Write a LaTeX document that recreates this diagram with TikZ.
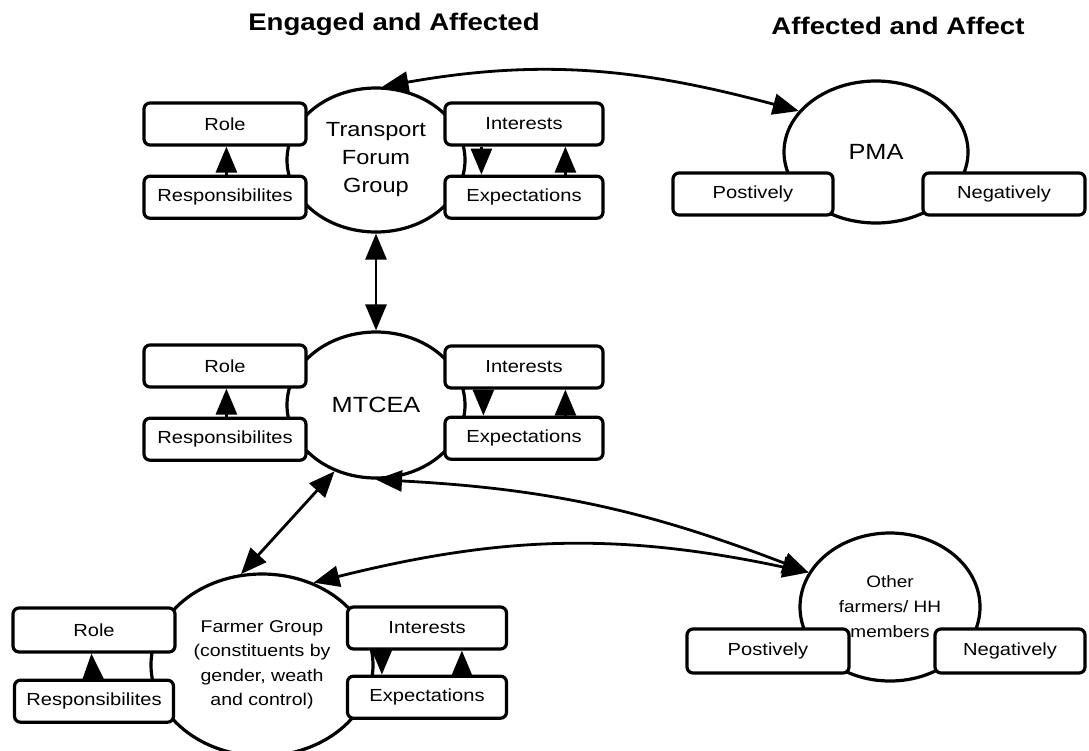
\documentclass[tikz,border=0pt]{standalone}
\usepackage{fontspec}
\setmainfont{Liberation Sans}[FakeStretch=1.15]
\usepackage{tikz}
\usetikzlibrary{arrows.meta,shapes.geometric,positioning}
\newcommand{\boxfont}{\fontsize{17.5}{21}\selectfont}
\newcommand{\hdrfont}{\fontsize{24}{28}\selectfont\bfseries}
\tikzset{
        box/.style = {draw, rectangle, rounded corners=6pt, fill=white,
            line width=3.2pt, inner sep=0pt,
            minimum height=42pt,
            minimum width=162pt, font=\boxfont},
        actor/.style = {draw, ellipse, line width=3.2pt, inner sep=0pt, align=center},
        arrow/.style = {draw, line width=2.8pt, -{Triangle[length=26pt,width=21pt]}},
        twoway/.style = {draw, line width=2.8pt,
            {Triangle[length=26pt,width=21pt]}-{Triangle[length=26pt,width=21pt]}},
        heading/.style = {font=\hdrfont},
    }

\begin{document}
\begin{tikzpicture}[x=1pt,y=1pt]
\useasboundingbox (0,0) rectangle (1089,-750);

\node[heading] (h1) at (394,-24) {Engaged and Affected};
\node[heading] (h2) at (898,-26) {Affected and Affect};

% stakeholders
\node[actor, minimum width=178pt, minimum height=144pt,
      font=\fontsize{20.5}{28}\selectfont] (tfg) at (376,-160) {Transport\\Forum\\Group};
\node[actor, minimum width=184pt, minimum height=142pt,
      font=\fontsize{22}{26}\selectfont] (pma) at (876,-152) {PMA};
\node[actor, minimum width=178pt, minimum height=146pt,
      font=\fontsize{22}{26}\selectfont] (mtcea) at (376,-405) {MTCEA};
\node[actor, minimum width=222pt, minimum height=182pt,
      font=\fontsize{17}{24.5}\selectfont] (farmer) at (262,-665)
      {Farmer Group\\(constituents by\\gender, weath\\and control)};
\node[actor, minimum width=180pt, minimum height=148pt,
      font=\fontsize{16.5}{25}\selectfont] (other) at (890,-607) {Other\\farmers/ HH\\members};

% Transport Forum Group
\node[box] (role1) at (225,-124) {Role};
\node[box, below=28pt of role1] (resp1) {Responsibilites};
\node[box, minimum width=158pt] (int1) at (524,-124) {Interests};
\node[box, minimum width=158pt, below=28pt of int1] (exp1) {Expectations};
\draw[arrow] ([xshift=84pt]resp1.north west) -- ([xshift=84pt]role1.south west);
\draw[arrow] ([xshift=38pt]int1.south west) -- ([xshift=38pt]exp1.north west);
\draw[arrow] ([xshift=122pt]exp1.north west) -- ([xshift=122pt]int1.south west);

% PMA
\node[box, minimum width=160pt] (pos1) at (753,-194) {Postively};
\node[box] (neg1) at (1004,-194) {Negatively};

% MTCEA
\node[box] (role2) at (225,-366) {Role};
\node[box, below=28pt of role2] (resp2) {Responsibilites};
\node[box, minimum width=158pt] (int2) at (524,-367) {Interests};
\node[box, minimum width=158pt, below=26pt of int2] (exp2) {Expectations};
\draw[arrow] ([xshift=84pt]resp2.north west) -- ([xshift=84pt]role2.south west);
\draw[arrow] ([xshift=40pt]int2.south west) -- ([xshift=40pt]exp2.north west);
\draw[arrow] ([xshift=122pt]exp2.north west) -- ([xshift=122pt]int2.south west);

% Farmer Group
\node[box, minimum height=44pt] (role3) at (94,-630) {Role};
\node[box, minimum width=159pt, below=25pt of role3] (resp3) {Responsibilites};
\node[box, minimum width=159pt] (int3) at (427,-628) {Interests};
\node[box, minimum width=159pt, below=24pt of int3] (exp3) {Expectations};
\draw[arrow] ([xshift=80pt]resp3.north west) -- ([xshift=80pt]role3.south west);
\draw[arrow] ([xshift=36pt]int3.south west) -- ([xshift=36pt]exp3.north west);
\draw[arrow] ([xshift=116pt]exp3.north west) -- ([xshift=116pt]int3.south west);

% Other farmers
\node[box, minimum height=44pt] (pos2) at (768,-651) {Postively};
\node[box, minimum height=44pt, minimum width=150pt] (neg2) at (1010,-651) {Negatively};

% links between stakeholders
\draw[twoway] (tfg.85) to[out=10, in=165] (pma.152);
\draw[twoway] (tfg.south) -- (mtcea.north);
\draw[twoway] (mtcea.238) -- (farmer.103);
\draw[twoway] (mtcea.south) to[out=-3, in=159] (other.157);
\draw[twoway] (farmer.58) to[out=14, in=168] (other.157);
\end{tikzpicture}
\end{document}
